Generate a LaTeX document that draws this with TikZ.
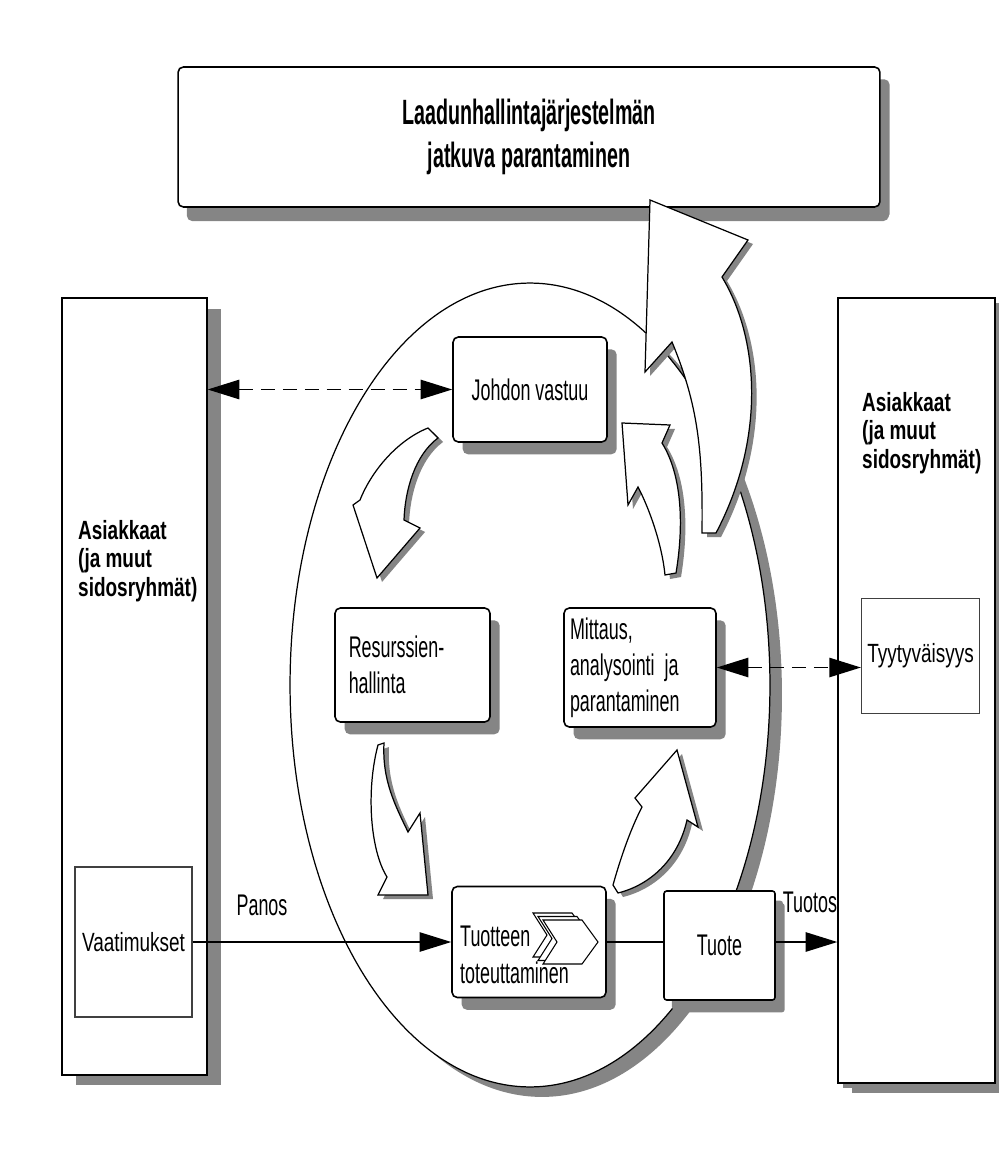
\documentclass[tikz,border=0pt]{standalone}
\usepackage{fontspec}
\setmainfont{Liberation Sans}
\newfontfamily\narrowfont[FakeStretch=0.6]{Liberation Sans}
\newfontfamily\titlefont[FakeStretch=0.56]{Liberation Sans}
\newfontfamily\widefont[FakeStretch=0.72]{Liberation Sans}
\usetikzlibrary{arrows.meta,shadows}
\definecolor{shadowgray}{gray}{0.52}
% white block arrow with a grey shadow
\newcommand{\blockarrow}[1]{%
  \fill[shadowgray, shift={(5,4)}] #1;
  \filldraw[fill=white, draw=black, line width=0.7pt] #1;}
\newcommand{\bigarrowpath}{(650,200) -- (748,240) -- (722,277) .. controls (760,340) and (765,440) .. (716,533) -- (702,533) .. controls (703,450) and (698,405) .. (672,342) -- (645,372) -- cycle}
\newcommand{\arrowJR}{(428,428) .. controls (398,440) and (372,470) .. (360,500) -- (353,505) -- (377,578) -- (420,528) -- (404,520) .. controls (405,490) and (415,455) .. (438,438) -- cycle}
\newcommand{\arrowRT}{(378,745) .. controls (366,790) and (370,850) .. (387,877) -- (378,895) -- (428,895) -- (420,813) -- (408,832) .. controls (395,805) and (382,780) .. (384,743) -- cycle}
\newcommand{\arrowTM}{(613,885) .. controls (620,860) and (630,830) .. (642,807) -- (635,798) -- (677,750) -- (698,827) -- (687,820) .. controls (678,860) and (650,885) .. (618,893) -- cycle}
\newcommand{\arrowMJ}{(665,575) .. controls (662,545) and (650,510) .. (638,487) -- (628,505) -- (622,423) -- (670,425) -- (662,443) .. controls (682,475) and (684,525) .. (676,573) -- cycle}
\newcommand{\chevronpath}{(543,920) -- (582,920) -- (598,942) -- (582,964) -- (543,964) -- (557,942) -- cycle}

\tikzset{
  procbox/.style={draw, fill=white, rounded corners=3pt, line width=0.9pt, align=left, inner sep=0pt,
    drop shadow={shadow xshift=5.5pt, shadow yshift=-7pt, fill=shadowgray, opacity=1},
    font=\narrowfont\fontsize{17}{20.5}\selectfont},
  sidebox/.style={draw, fill=white, line width=0.8pt,
    drop shadow={shadow xshift=8pt, shadow yshift=-6pt, fill=shadowgray, opacity=1}},
  innerbox/.style={draw=black!75, line width=0.6pt, font=\widefont\fontsize{15}{17}\selectfont},
  sidetext/.style={anchor=west, align=left, font=\widefont\bfseries\fontsize{15}{16.4}\selectfont},
  lbl/.style={font=\narrowfont\fontsize{17}{21}\selectfont},
  conn/.style={line width=0.9pt, -{Triangle[length=18pt,width=11pt]}},
  dashconn/.style={line width=1pt, {Triangle[length=18pt,width=11pt]}-{Triangle[length=18pt,width=11pt]}, dash pattern=on 8pt off 4.5pt},
}

\begin{document}
\begin{tikzpicture}[x=0.02cm, y=-0.02cm]
  \useasboundingbox (0,0) rectangle (999,1175);

  % the big loop and its shadow
  \fill[shadowgray] (542,695) ellipse [x radius=4.8cm, y radius=8.04cm];
  \filldraw[fill=white, line width=0.7pt] (530,685) ellipse [x radius=4.8cm, y radius=8.04cm];

  % top box
  \node[procbox, align=center, minimum width=14.04cm, minimum height=2.8cm,
        drop shadow={shadow xshift=5pt, shadow yshift=-8pt, fill=shadowgray, opacity=1},
        font=\titlefont\bfseries\fontsize{20}{24}\selectfont]
    (title) at (529,137) {Laadunhallintajärjestelmän\\jatkuva parantaminen};

  % customers on both sides
  \node[sidebox, minimum width=2.9cm, minimum height=15.54cm] (asiakkaatL) at (134.5,686.5) {};
  \node[sidetext] (asiakkaatLtext) at (72,561) {Asiakkaat\\(ja muut\\sidosryhmät)};
  \node[innerbox, minimum width=2.34cm, minimum height=3cm] (vaat) at (133.5,942) {Vaatimukset};

  \node[sidebox, minimum width=3.14cm, minimum height=15.7cm,
        drop shadow={shadow xshift=3pt, shadow yshift=-3pt, fill=shadowgray, opacity=1}]
    (asiakkaatR) at (916.5,690.5) {};
  \node[sidetext] (asiakkaatRtext) at (856,433) {Asiakkaat\\(ja muut\\sidosryhmät)};
  \node[innerbox, minimum width=2.26cm, minimum height=2.3cm] (tyyt) at (920.5,656) {Tyytyväisyys};

  % processes
  \node[procbox, align=center, minimum width=3.08cm, minimum height=2.1cm] (johdon) at (530,389.5) {Johdon vastuu};
  \node[procbox, text width=2.55cm, minimum width=3.1cm, minimum height=2.28cm] (resurssit) at (412.5,665) {Resurssien-\\hallinta};
  \node[procbox, text width=2.8cm, minimum width=3.04cm, minimum height=2.38cm] (mittaus) at (640,667.5) {Mittaus,\\analysointi ja\\parantaminen};
  \node[procbox, minimum width=3.08cm, minimum height=2.22cm] (tuotteen) at (529,942) {};
  \node[lbl, anchor=west, align=left] (tuotteentext) at (454,955) {Tuotteen\\toteuttaminen};
  \foreach \d in {10,5,0}
    \filldraw[fill=white, line width=0.6pt, shift={(-\d,-0.7*\d)}] \chevronpath;
  \node[procbox, rounded corners=1.5pt, align=center, minimum width=2.22cm, minimum height=2.18cm,
        drop shadow={shadow xshift=4.5pt, shadow yshift=-5.5pt, fill=shadowgray, opacity=1}]
    (tuote) at (719.5,945.5) {Tuote};

  % block arrows round the loop
  \blockarrow{\bigarrowpath}
  \blockarrow{\arrowJR}
  \blockarrow{\arrowRT}
  \blockarrow{\arrowTM}
  \blockarrow{\arrowMJ}

  % connectors
  \draw[dashconn] (asiakkaatL.east |- johdon.west) -- (johdon.west);
  \draw[dashconn] (mittaus.east) -- (mittaus.east -| tyyt.west);
  \draw[conn] (vaat.east) -- (tuotteen.west);
  \draw[line width=0.9pt] (tuotteen.east) -- (tuotteen.east -| tuote.west);
  \draw[conn] (tuote.east |- tuotteen.east) -- (tuotteen.east -| asiakkaatR.west);
  \node[lbl] (panos) at (262,905) {Panos};
  \node[lbl] (tuotos) at (810,902) {Tuotos};

\end{tikzpicture}
\end{document}
